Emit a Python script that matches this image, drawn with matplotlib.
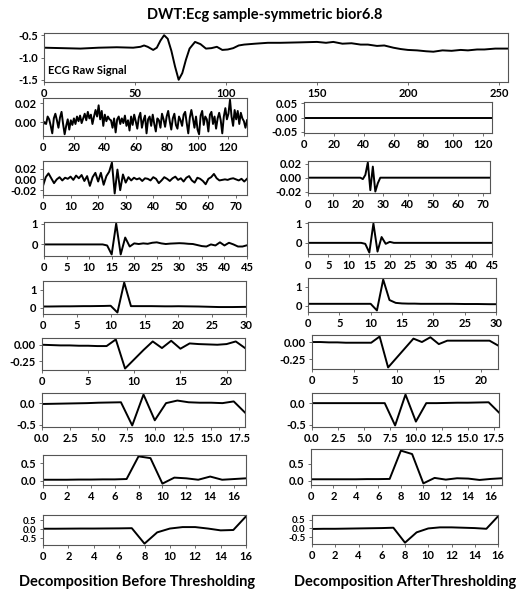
import matplotlib
matplotlib.use("Agg")
import matplotlib.pyplot as plt
from matplotlib.ticker import MultipleLocator, FixedLocator, FormatStrFormatter

plt.rcParams['font.family'] = ['Lato', 'DejaVu Sans']
plt.rcParams['font.weight'] = 'bold'
plt.rcParams['axes.unicode_minus'] = False

# ---------------- data ----------------
title = "DWT:Ecg sample-symmetric bior6.8"
raw_label = "ECG Raw Signal"
left_label = "Decomposition Before Thresholding"
right_label = "Decomposition AfterThresholding"

ecg_x = [0, 10, 20, 30, 40, 49, 53, 55, 57, 60, 62, 64, 66, 68, 70, 72, 74, 76, 78, 80,
         83, 86, 89, 92, 95, 98, 101, 104, 107, 110, 116, 123, 130, 141, 150, 155, 159,
         164, 169, 174, 178, 183, 187, 192, 196, 200, 205, 210, 214, 219, 224, 229, 233,
         238, 242, 248, 255]
ecg_y = [-0.78, -0.79, -0.80, -0.78, -0.77, -0.78, -0.76, -0.73, -0.76, -0.83, -0.78,
         -0.62, -0.50, -0.58, -0.85, -1.20, -1.50, -1.35, -1.05, -0.80, -0.65, -0.70,
         -0.80, -0.79, -0.76, -0.83, -0.82, -0.79, -0.73, -0.71, -0.69, -0.67, -0.67,
         -0.66, -0.65, -0.67, -0.65, -0.69, -0.68, -0.71, -0.71, -0.74, -0.73, -0.78,
         -0.81, -0.83, -0.84, -0.86, -0.87, -0.84, -0.85, -0.83, -0.84, -0.82, -0.82,
         -0.80, -0.80]

before_1 = [-0.003, 0.000, -0.002, 0.006, 0.003, -0.004, -0.012, 0.004, 0.009, 0.002,
            -0.006, 0.005, 0.011, -0.002, -0.013, -0.004, 0.003, -0.008, 0.002, -0.003,
            0.004, -0.002, 0.006, 0.001, 0.007, -0.001, 0.004, 0.009, 0.002, 0.011,
            0.004, 0.008, -0.002, 0.006, 0.013, 0.006, 0.018, 0.003, 0.012, -0.004,
            0.008, 0.001, 0.006, 0.003, 0.002, -0.006, 0.004, -0.011, 0.003, 0.006,
            -0.002, 0.004, -0.001, 0.007, -0.004, 0.002, -0.009, 0.006, -0.003, 0.008,
            0.001, -0.007, 0.005, 0.010, -0.006, 0.002, 0.007, -0.012, 0.003, 0.006,
            -0.004, 0.008, -0.002, -0.010, 0.004, 0.002, -0.006, 0.009, 0.003, -0.005,
            0.006, 0.012, 0.001, -0.008, 0.004, 0.009, -0.003, -0.007, 0.006, 0.002,
            -0.004, 0.008, 0.011, -0.001, -0.012, 0.005, 0.013, 0.004, -0.006, 0.006,
            -0.008, -0.013, 0.007, 0.012, -0.003, 0.006, 0.003, -0.010, 0.008, 0.011,
            -0.002, 0.006, -0.007, 0.004, 0.010, 0.002, -0.012, 0.006, 0.015, 0.003,
            0.009, 0.024, 0.006, -0.004, 0.013, 0.003, 0.012, -0.002, 0.010, 0.004,
            0.001, -0.006, 0.002]
after_1 = [0.0] * 127

before_2 = [-0.012, 0.004, 0.011, 0.002, -0.007, 0.000, 0.004, -0.002, 0.003, 0.001,
            0.005, -0.001, 0.007, 0.002, 0.008, -0.003, 0.006, -0.012, 0.004, 0.012,
            -0.004, 0.012, -0.010, 0.006, 0.014, 0.031, -0.026, 0.018, -0.020, 0.009,
            -0.006, 0.004, -0.002, 0.003, 0.000, 0.002, -0.003, 0.002, 0.001, -0.002,
            0.004, 0.001, -0.007, -0.002, 0.004, 0.001, -0.003, 0.002, 0.005, -0.001,
            0.002, -0.004, 0.003, 0.006, -0.002, -0.006, 0.003, 0.001, -0.003, -0.009,
            0.001, 0.004, 0.010, 0.002, -0.002, -0.001, 0.000, -0.001, 0.001, 0.002,
            0.000, -0.002, 0.001, -0.004, 0.001]
after_2 = ([0.0] * 22 + [-0.002, 0.004, 0.022, -0.018, 0.016, -0.020, -0.008]
           + [0.0] * 45)

before_3 = ([0.0] * 14 + [-0.05, -0.48, 1.0, -0.48, 0.33, -0.10, 0.05, 0.02, 0.05,
            0.03, 0.08, 0.10, 0.05, 0.02, 0.04, 0.05, 0.06, 0.05, 0.03, 0.02, -0.03,
            -0.08, -0.10, 0.0, -0.05, 0.10, -0.05, 0.08, 0.0, -0.10, -0.10, -0.04])
after_3 = ([0.0] * 14 + [-0.05, -0.50, 1.0, -0.45, 0.30, -0.05, 0.05]
           + [0.0] * 25)

before_4 = [0.08, 0.08, 0.085, 0.09, 0.09, 0.095, 0.10, 0.10, 0.105, 0.11, 0.12,
            -0.25, 1.40, 0.10, 0.10, 0.10, 0.10, 0.095, 0.09, 0.09, 0.095, 0.09, 0.085,
            0.08, 0.07, 0.06, 0.05, 0.05, 0.05, 0.055, 0.06]
after_4 = [0.10] * 11 + [-0.25, 1.38, 0.30, 0.15, 0.12, 0.11, 0.11, 0.10, 0.10, 0.10,
                         0.10, 0.10, 0.10, 0.095, 0.09, 0.09, 0.09, 0.085, 0.08, 0.08]

before_5 = [0.0, -0.005, -0.01, -0.01, -0.015, -0.015, -0.02, -0.02, 0.08, -0.36,
            -0.22, -0.08, 0.05, -0.05, 0.06, -0.06, 0.02, 0.01, 0.005, 0.0, 0.01, 0.05,
            -0.05]
after_5 = [0.0, 0.0, -0.005, -0.005, -0.01, -0.01, -0.01, -0.01, 0.08, -0.37, -0.23,
           -0.09, 0.05, 0.0, 0.07, -0.03, 0.02, 0.02, 0.02, 0.02, 0.02, 0.02, -0.05]

before_6 = [-0.02, -0.015, -0.01, -0.005, 0.0, 0.01, 0.015, 0.02, -0.52, 0.20, -0.40,
            0.0, 0.06, 0.02, 0.01, 0.01, 0.0, 0.04, -0.22]
after_6 = [0.0, 0.0, 0.0, 0.0, 0.0, 0.0, 0.0, 0.0, -0.52, 0.20, -0.43, 0.0, 0.0, 0.005,
           0.01, 0.01, 0.015, 0.02, -0.22]

before_7 = [0.03, 0.03, 0.03, 0.035, 0.035, 0.04, 0.04, 0.05, 0.69, 0.64, -0.08, 0.09,
            0.07, 0.03, 0.12, 0.03, 0.05, 0.07]
after_7 = [0.04, 0.04, 0.04, 0.04, 0.04, 0.045, 0.045, 0.05, 0.88, 0.78, -0.08, 0.08,
           0.03, 0.07, 0.06, 0.02, 0.05, 0.07]

before_8 = [0.02, 0.02, 0.025, 0.03, 0.03, 0.035, 0.04, 0.05, -0.80, -0.18, 0.03, 0.11,
            0.11, 0.03, -0.07, -0.05, 0.70]
after_8 = [-0.03, -0.02, -0.02, -0.01, 0.0, 0.01, 0.02, 0.04, -0.80, -0.22, 0.0, 0.06,
           0.06, 0.04, 0.02, -0.02, 0.68]

before = [before_1, before_2, before_3, before_4, before_5, before_6, before_7, before_8]
after = [after_1, after_2, after_3, after_4, after_5, after_6, after_7, after_8]

raw_xticks = [0, 50, 100, 150, 200, 250]
raw_yticks = [-1.5, -1.0, -0.5]
raw_yticklabels = ["-1.5", "-1.0", "-0.5"]
row_xstep = [20, 10, 5, 5, 5, 2.5, 2, 2]
row_yticks_left = [[0.0, 0.02], [-0.02, 0.0, 0.02], [0, 1], [0, 1], [-0.25, 0.0],
                   [-0.5, 0.0], [0.0, 0.5], [-0.5, 0.0, 0.5]]
row_yticks_right = [[-0.05, 0.0, 0.05], [-0.02, 0.0, 0.02], [0, 1], [0, 1],
                    [-0.25, 0.0], [-0.5, 0.0], [0.0, 0.5], [-0.5, 0.0, 0.5]]
row_yfmt = ['%.2f', '%.2f', '%.0f', '%.0f', '%.2f', '%.1f', '%.1f', '%.1f']
row_yfs = [8, 8, 8, 8, 8, 8, 8, 7]

# ---------------- layout (pixel boxes) ----------------
W, H = 523, 592
fig = plt.figure(figsize=(W / 100, H / 100), dpi=100)


def box(x0, y0, x1, y1):
    return [x0 / W, 1 - y1 / H, (x1 - x0) / W, (y1 - y0) / H]


top_box = (44, 33, 508, 82)
left_boxes = [(43, 98, 247, 136), (43, 161, 247, 195), (44, 222, 247, 256),
              (43, 281, 246, 314), (42, 338, 245, 370), (42, 393, 245, 427),
              (43, 455, 246, 485), (43, 515, 246, 545)]
right_boxes = [(304, 102, 492, 133), (308, 161, 490, 193), (308, 222, 492, 254),
               (308, 278, 496, 312), (312, 335, 498, 369), (312, 393, 499, 427),
               (311, 449, 502, 485), (312, 515, 498, 544)]

LW = 1.4
TICK_FS = 8


def style(ax, yfs=TICK_FS):
    for s in ax.spines.values():
        s.set_color('#555555')
        s.set_linewidth(0.8)
    ax.tick_params(labelsize=TICK_FS, length=2.5, width=0.6, color='#555555', pad=2)
    ax.tick_params(axis='y', labelsize=yfs)
    for lab in ax.get_xticklabels() + ax.get_yticklabels():
        lab.set_fontweight('bold')


ax = fig.add_axes(box(*top_box))
ax.plot(ecg_x, ecg_y, color='black', lw=LW)
ax.set_xlim(0, ecg_x[-1])
ax.set_ylim(-1.55, -0.45)
ax.xaxis.set_major_locator(FixedLocator(raw_xticks))
ax.set_yticks(raw_yticks, labels=raw_yticklabels)
ax.text(0.008, 0.12, raw_label, transform=ax.transAxes, fontsize=8,
        fontweight='bold', ha='left', va='bottom')
style(ax)


def draw(b, data, step, yt, fmt, yfs):
    a = fig.add_axes(box(*b))
    a.plot(range(len(data)), data, color='black', lw=LW)
    a.set_xlim(0, len(data) - 1)
    a.margins(y=0.05)
    if max(abs(v) for v in data) == 0:
        a.set_ylim(-0.055, 0.055)
    a.xaxis.set_major_locator(MultipleLocator(step))
    a.set_yticks(yt, labels=[fmt % v for v in yt])
    style(a, yfs)
    return a


for i in range(8):
    draw(left_boxes[i], before[i], row_xstep[i], row_yticks_left[i], row_yfmt[i],
         row_yfs[i])
    draw(right_boxes[i], after[i], row_xstep[i], row_yticks_right[i], row_yfmt[i],
         row_yfs[i])

fig.text(265 / W, 1 - 15 / H, title, ha='center', va='center', fontsize=10.5,
         fontweight='bold')
fig.text(137 / W, 1 - 582 / H, left_label, ha='center', va='center', fontsize=10.5,
         fontweight='bold')
fig.text(405 / W, 1 - 582 / H, right_label, ha='center', va='center', fontsize=10.5,
         fontweight='bold')

fig.savefig("out.png", dpi=100)
